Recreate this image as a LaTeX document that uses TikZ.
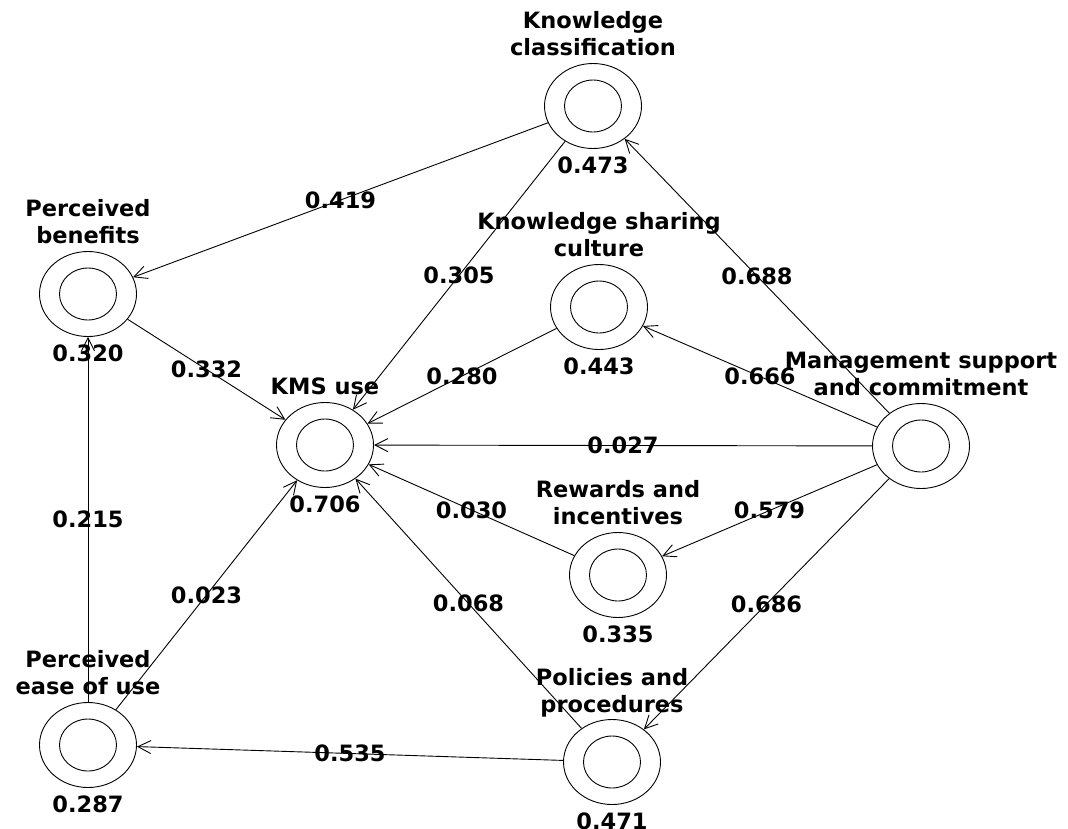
\documentclass[tikz,border=0pt]{standalone}
\usepackage{fontspec}
\setmainfont{DejaVu Sans}
\usetikzlibrary{shapes.geometric,arrows.meta}
\begin{document}
\begin{tikzpicture}[x=1pt,y=-1pt,
  every node/.style={font=\fontsize{22.5}{27}\selectfont\bfseries},
  ring/.style={ellipse,draw,line width=0.9pt,minimum width=97pt,minimum height=85pt,inner sep=0pt},
  conn/.style={line width=0.9pt,-{Straight Barb[length=13pt,width=13pt,line width=0.9pt]}},
  wt/.style={midway,inner sep=0pt},
  nm/.style={anchor=south,align=center,inner sep=0pt},
  val/.style={anchor=base,inner sep=0pt}]
\useasboundingbox[fill=white] (0,0) rectangle (1068,828);

\node[ring] (kc)  at (593,106) {};
\node[ring] (pb)  at (88,294) {};
\node[ring] (ksc) at (599,307) {};
\node[ring] (kms) at (325,445) {};
\node[ring] (mg)  at (921,446) {};
\node[ring] (ri)  at (618,575) {};
\node[ring] (peu) at (88,745) {};
\node[ring] (pp)  at (612,762) {};

\foreach \n in {kc,pb,ksc,kms,mg,ri,peu,pp}
  \draw[line width=0.9pt] (\n.center) ellipse [x radius=28.5, y radius=26];

\node[nm] (kcn)  at ([yshift=50pt]kc.center)  {Knowledge\\classification};
\node[nm] (pbn)  at ([yshift=50pt]pb.center)  {Perceived\\benefits};
\node[nm] (kscn) at ([yshift=50pt]ksc.center) {Knowledge sharing\\culture};
\node[nm] (kmsn) at ([yshift=50pt]kms.center) {KMS use};
\node[nm] (mgn)  at ([yshift=50pt]mg.center)  {Management support\\and commitment};
\node[nm] (rin)  at ([yshift=50pt]ri.center)  {Rewards and\\incentives};
\node[nm] (peun) at ([yshift=50pt]peu.center) {Perceived\\ease of use};
\node[nm] (ppn)  at ([yshift=45pt]pp.center)  {Policies and\\procedures};

\node[val] (kcv)  at ([yshift=-67pt]kc.center)  {0.473};
\node[val] (pbv)  at ([yshift=-67pt]pb.center)  {0.320};
\node[val] (kscv) at ([yshift=-67pt]ksc.center) {0.443};
\node[val] (kmsv) at ([yshift=-67pt]kms.center) {0.706};
\node[val] (riv)  at ([yshift=-67pt]ri.center)  {0.335};
\node[val] (peuv) at ([yshift=-67pt]peu.center) {0.287};
\node[val] (ppv)  at ([yshift=-67pt]pp.center)  {0.471};

\draw[conn] (kc)  -- node[wt] {0.419} (pb);
\draw[conn] (kc)  -- node[wt] {0.305} (kms);
\draw[conn] (mg)  -- node[wt] {0.688} (kc);
\draw[conn] (pb)  -- node[wt] {0.332} (kms);
\draw[conn] (ksc) -- node[wt] {0.280} (kms);
\draw[conn] (mg)  -- node[wt] {0.666} (ksc);
\draw[conn] (mg)  -- node[wt] {0.027} (kms);
\draw[conn] (ri)  -- node[wt] {0.030} (kms);
\draw[conn] (mg)  -- node[wt] {0.579} (ri);
\draw[conn] (peu) -- node[wt] {0.215} (pb);
\draw[conn] (peu) -- node[wt] {0.023} (kms);
\draw[conn] (pp)  -- node[wt] {0.068} (kms);
\draw[conn] (mg)  -- node[wt] {0.686} (pp);
\draw[conn] (pp)  -- node[wt] {0.535} (peu);
\end{tikzpicture}
\end{document}
